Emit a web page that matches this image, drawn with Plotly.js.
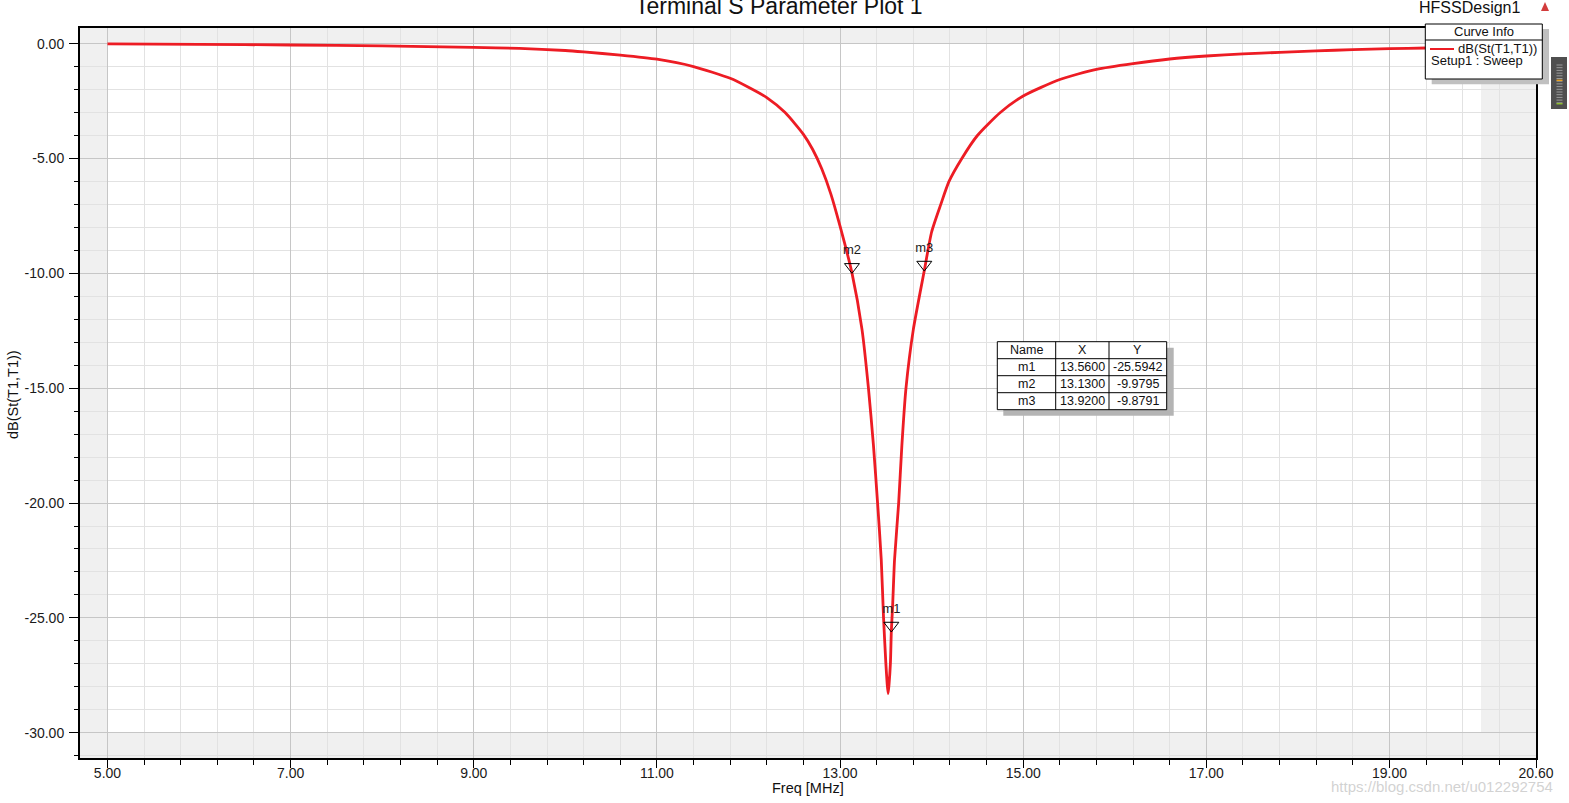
<!DOCTYPE html>
<html>
<head>
<meta charset="utf-8">
<script src="https://cdn.plot.ly/plotly-3.0.1.min.js"></script>
<style>html,body{margin:0;padding:0;background:#fff;}#chart{width:1569px;height:803px;}</style>
</head>
<body>
<div id="chart"></div>
<script>
// ---- data ----
const freq = [5.0, 6.0, 7.0, 8.0, 9.0, 9.5, 10.0, 10.2, 10.6, 11.0, 11.4, 11.8, 12.0, 12.2, 12.4, 12.6, 12.7, 12.8, 12.9, 13.0,
  13.13, 13.24, 13.31, 13.365, 13.41, 13.45, 13.475, 13.50, 13.515, 13.525, 13.535, 13.55, 13.56, 13.575, 13.595,
  13.64, 13.675, 13.72, 13.80, 13.92, 14.0, 14.10, 14.19, 14.33, 14.50, 14.75, 15.0, 15.4, 15.8, 16.2, 16.6,
  17.0, 17.4, 17.8, 18.2, 18.6, 19.0, 19.4, 20.0];
const s11dB = [-0.01, -0.03, -0.06, -0.10, -0.16, -0.21, -0.30, -0.36, -0.50, -0.68, -1.00, -1.51, -1.90, -2.35, -3.00, -3.95, -4.60, -5.45, -6.55, -7.95,
  -9.98, -12.45, -15.0, -17.5, -20.0, -22.47, -25.0, -26.97, -27.9, -28.3, -27.9, -26.97, -25.59, -24.4, -22.47,
  -20.0, -17.5, -15.0, -12.45, -9.88, -8.2, -7.0, -6.0, -5.0, -4.0, -3.0, -2.28, -1.56, -1.12, -0.87, -0.67,
  -0.54, -0.45, -0.38, -0.32, -0.26, -0.22, -0.19, -0.15];

const markerNames = ['m1', 'm2', 'm3'];
const markerX = [13.56, 13.13, 13.92];
const markerY = [-25.5942, -9.9795, -9.8791];

const xTickVals = [5, 7, 9, 11, 13, 15, 17, 19, 20.6];
const yTickVals = [0, -5, -10, -15, -20, -25, -30];

const curveName = 'dB(St(T1,T1))';
const setupName = 'Setup1 : Sweep';

// ---- layout geometry ----
const W = 1569, H = 803;
const M = {l: 80, r: 33, t: 28, b: 45};
const PW = W - M.l - M.r, PH = H - M.t - M.b;
const xRange = [4.70, 20.60];
const yRange = [-31.1, 0.68];
const px = x => (x - M.l) / PW;          // pixel -> paper x
const py = y => 1 - (y - M.t) / PH;      // pixel -> paper y
const dyPerPx = (yRange[1] - yRange[0]) / PH;

const red = 'rgb(237,28,36)';
const font = 'Liberation Sans, Arial, sans-serif';

const curve = {
  x: freq, y: s11dB, type: 'scatter', mode: 'lines',
  line: {color: red, width: 2.8, shape: 'spline', smoothing: 0.6}, hoverinfo: 'x+y', showlegend: false
};

const markers = {
  x: markerX, y: markerY.map(v => v + 6 * dyPerPx),
  type: 'scatter', mode: 'markers+text', text: markerNames,
  textposition: 'top center', textfont: {family: font, size: 13, color: '#1a1a1a'},
  marker: {symbol: 'triangle-down-open', size: 13, color: '#000', line: {width: 1, color: '#000'}},
  showlegend: false, cliponaxis: false
};

const shapes = [];
const annotations = [];

// data region (white) over the gray plot background
shapes.push({type: 'rect', xref: 'x', yref: 'y', x0: 5, x1: 20, y0: -30, y1: 0,
  fillcolor: '#ffffff', line: {width: 0}, layer: 'below'});

function prect(x0, y0, x1, y1, fill, lineColor, lw) {
  shapes.push({type: 'rect', xref: 'paper', yref: 'paper', x0: px(x0), x1: px(x1), y0: py(y1), y1: py(y0),
    fillcolor: fill, line: {width: lw || 0, color: lineColor || fill}, layer: 'above'});
}
function pline(x0, y0, x1, y1, color, lw) {
  shapes.push({type: 'line', xref: 'paper', yref: 'paper', x0: px(x0), x1: px(x1), y0: py(y0), y1: py(y1),
    line: {width: lw, color: color}, layer: 'above'});
}
function ptext(text, x, y, size, xanchor, color, extra) {
  annotations.push(Object.assign({text: text, xref: 'paper', yref: 'paper', x: px(x), y: py(y),
    xanchor: xanchor || 'center', yanchor: 'middle', showarrow: false,
    font: {family: font, size: size, color: color || '#111'}}, extra || {}));
}

// ---- marker table ----
const tL = 997.3, tR = 1166.7, tT = 341.7, rowH = 17;
const colEdges = [tL, 1055.7, 1109, tR];
const nRows = markerNames.length + 1;
const tB = tT + rowH * nRows;
prect(tL + 6, tT + 6, tR + 7, tB + 6, '#b4b4b4');
prect(tL, tT, tR, tB, '#ffffff', '#000', 1);
for (let r = 1; r < nRows; r++) pline(tL, tT + r * rowH, tR, tT + r * rowH, '#000', 1);
for (let c = 1; c < 3; c++) pline(colEdges[c], tT, colEdges[c], tB, '#000', 1);
const colC = [0, 1, 2].map(c => (colEdges[c] + colEdges[c + 1]) / 2);
['Name', 'X', 'Y'].forEach((h, c) => ptext(h, colC[c], tT + rowH / 2, 12.5));
markerNames.forEach((n, r) => {
  const yc = tT + rowH * (r + 1) + rowH / 2;
  ptext(n, colC[0], yc, 12.5);
  ptext(markerX[r].toFixed(4), colC[1], yc, 12.5);
  ptext(markerY[r].toFixed(4), colC[2], yc, 12.5);
});

// ---- Curve Info box ----
prect(1431.7, 29, 1549, 84.3, '#c0c0c0');
prect(1425.3, 24, 1542.3, 79, '#ffffff', '#000', 1);
pline(1425.3, 40, 1542.3, 40, '#000', 1);
pline(1430, 49, 1454, 49, red, 2);
ptext('Curve Info', 1484, 31.5, 13);
ptext(curveName, 1539, 48.5, 13, 'right');
ptext(setupName, 1429, 60, 13, 'left');

// ---- titles / decorations ----
ptext('Terminal S Parameter Plot 1', 779, 6, 23);
ptext('HFSSDesign1', 1522, 7, 16, 'right');
ptext('Freq [MHz]', 808, 788, 14.5);
ptext('dB(St(T1,T1))', 13, 395, 14.5, 'center', '#111', {textangle: -90});
shapes.push({type: 'path', xref: 'paper', yref: 'paper', layer: 'above',
  path: `M ${px(1541)} ${py(11)} L ${px(1545)} ${py(2)} L ${px(1549)} ${py(11)} Z`,
  fillcolor: '#d23c3c', line: {width: 0}});
// side slider widget
prect(1551, 57, 1567, 109, '#4f4f4f');
for (let yy = 65; yy <= 105; yy += 2.7) pline(1556.5, yy, 1562.5, yy, '#9a9a9a', 1);
pline(1556.5, 80.3, 1562.5, 80.3, '#e8a020', 1.5);
pline(1556.5, 103.7, 1562.5, 103.7, '#90c030', 1.5);
// watermark
ptext('https://blog.csdn.net/u012292754', 1442, 786, 15, 'center', 'rgba(190,190,190,0.7)');

const layout = {
  width: W, height: H,
  margin: M,
  paper_bgcolor: '#ffffff', plot_bgcolor: '#f0f0f0',
  font: {family: font, size: 14, color: '#1a1a1a'},
  showlegend: false,
  xaxis: {
    range: xRange, tickmode: 'array', tickvals: xTickVals, ticktext: xTickVals.map(v => v.toFixed(2)),
    ticks: 'outside', ticklen: 8, tickcolor: '#000', tickwidth: 1,
    showgrid: true, gridcolor: '#c6c6c6', gridwidth: 1,
    minor: {tickmode: 'linear', tick0: 5, dtick: 0.4, ticks: 'outside', ticklen: 5, tickcolor: '#000',
      showgrid: true, gridcolor: '#e2e2e2', gridwidth: 1},
    showline: true, linecolor: '#000', linewidth: 2, mirror: true, zeroline: false,
    tickfont: {family: font, size: 14, color: '#1a1a1a'},
    ticklabelstandoff: -7
  },
  yaxis: {
    range: yRange, tickmode: 'array', tickvals: yTickVals, ticktext: yTickVals.map(v => v.toFixed(2)),
    ticks: 'outside', ticklen: 9, tickcolor: '#000', tickwidth: 1,
    showgrid: true, gridcolor: '#c6c6c6', gridwidth: 1,
    minor: {tickmode: 'linear', tick0: 0, dtick: 1, ticks: 'outside', ticklen: 4, tickcolor: '#000',
      showgrid: true, gridcolor: '#e2e2e2', gridwidth: 1},
    showline: true, linecolor: '#000', linewidth: 2, mirror: true, zeroline: false,
    tickfont: {family: font, size: 14, color: '#1a1a1a'},
    ticklabelstandoff: 2
  },
  shapes: shapes,
  annotations: annotations
};

Plotly.newPlot('chart', [curve, markers], layout, {displayModeBar: false, staticPlot: true});
</script>
</body>
</html>
